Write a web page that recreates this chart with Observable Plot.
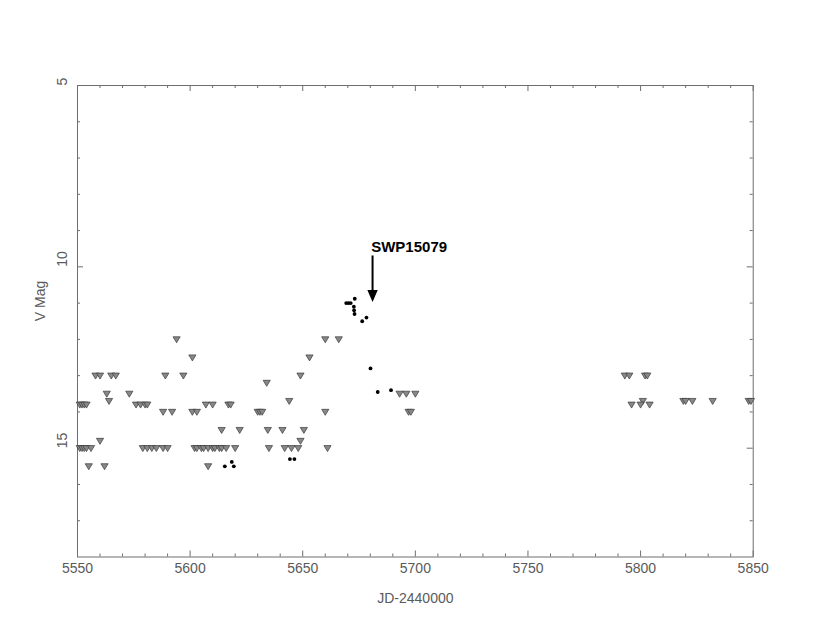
<!DOCTYPE html>
<html><head><meta charset="utf-8">
<script src="https://cdn.jsdelivr.net/npm/d3@7"></script>
<script src="https://cdn.jsdelivr.net/npm/@observablehq/plot@0.6"></script>
<style>body{margin:0;background:#fff}</style>
</head><body><div id="chart"></div>
<script>
// Upper limits (inverted triangles): JD-2440000 and V magnitude
const limitJD = [
  5594, 5660, 5666,
  5601, 5653,
  5558, 5560, 5565, 5567, 5589, 5597, 5649, 5793, 5795, 5802, 5803,
  5634,
  5563, 5573, 5693, 5696, 5700,
  5564, 5644, 5801, 5819, 5820, 5823, 5832, 5848, 5849,
  5551, 5552, 5553, 5554, 5576, 5578, 5580, 5581, 5607, 5610, 5617, 5618, 5796, 5800, 5804,
  5588, 5592, 5601, 5603, 5630, 5631, 5632, 5660, 5697, 5698,
  5614, 5622, 5634.5, 5641, 5650.5,
  5560, 5649,
  5551, 5552, 5553, 5554, 5556, 5579, 5581, 5583, 5585, 5588, 5590, 5602, 5603, 5605, 5606, 5608, 5610, 5611, 5613, 5614, 5616, 5620, 5635, 5642, 5645, 5648, 5661,
  5555, 5562, 5608
];
const limitMag = [
  12.0, 12.0, 12.0,
  12.5, 12.5,
  13.0, 13.0, 13.0, 13.0, 13.0, 13.0, 13.0, 13.0, 13.0, 13.0, 13.0,
  13.2,
  13.5, 13.5, 13.5, 13.5, 13.5,
  13.7, 13.7, 13.7, 13.7, 13.7, 13.7, 13.7, 13.7, 13.7,
  13.8, 13.8, 13.8, 13.8, 13.8, 13.8, 13.8, 13.8, 13.8, 13.8, 13.8, 13.8, 13.8, 13.8, 13.8,
  14.0, 14.0, 14.0, 14.0, 14.0, 14.0, 14.0, 14.0, 14.0, 14.0,
  14.5, 14.5, 14.5, 14.5, 14.5,
  14.8, 14.8,
  15.0, 15.0, 15.0, 15.0, 15.0, 15.0, 15.0, 15.0, 15.0, 15.0, 15.0, 15.0, 15.0, 15.0, 15.0, 15.0, 15.0, 15.0, 15.0, 15.0, 15.0, 15.0, 15.0, 15.0, 15.0, 15.0, 15.0,
  15.5, 15.5, 15.5
];
// Detections (filled dots)
const detJD  = [5615.4, 5618.5, 5619.4, 5644.3, 5646.3, 5669.3, 5670.3, 5671.3, 5673.1, 5672.7, 5672.8, 5673.0, 5676.4, 5678.3, 5680.1, 5683.3, 5689.2];
const detMag = [15.5, 15.38, 15.5, 15.3, 15.3, 11.0, 11.0, 11.0, 10.88, 11.1, 11.2, 11.3, 11.5, 11.4, 12.8, 13.45, 13.4];

// Annotation
const noteLabel = ["SWP15079"];
const noteJD = [5681];
const noteMagTop = [9.7];
const noteMagTip = [10.97];
const noteTextJD = [5680.4];
const noteTextMag = [9.45];

// Axes
const xMajorTicks = [5550, 5600, 5650, 5700, 5750, 5800, 5850];
const xMinorTicks = [5560, 5570, 5580, 5590, 5610, 5620, 5630, 5640, 5660, 5670, 5680, 5690, 5710, 5720, 5730, 5740, 5760, 5770, 5780, 5790, 5810, 5820, 5830, 5840];
const yMajorTicks = [5, 10, 15];
const yMinorTicks = [6, 7, 8, 9, 11, 12, 13, 14, 16, 17];
const xLabel = "JD-2440000";
const yLabel = "V Mag";

const limits = limitJD.map((x, i) => ({x, y: limitMag[i]}));
const dets = detJD.map((x, i) => ({x, y: detMag[i]}));

const W = 830, H = 642;
const mL = 77, mR = 77.3, mT = 85, mB = 85.5;
const iw = W - mL - mR, ih = H - mT - mB;
const axisColor = "#6e6e6e";
const textColor = "#5a5a5a";

const downTri = {draw(ctx) { ctx.moveTo(-3.6, -2.6); ctx.lineTo(3.6, -2.6); ctx.lineTo(0, 3.4); ctx.closePath(); }};
const arrowHead = {draw(ctx) { ctx.moveTo(0, 0); ctx.lineTo(-5.2, -12); ctx.lineTo(5.2, -12); ctx.closePath(); }};

const chart = Plot.plot({
  width: W, height: H,
  marginLeft: mL, marginRight: mR, marginTop: mT, marginBottom: mB,
  style: {fontFamily: "'Liberation Sans', Arial, sans-serif", fontSize: "14px", background: "#fff"},
  x: {domain: [5550, 5850], axis: null},
  y: {domain: [5, 18], reverse: true, axis: null},
  marks: [
    Plot.frame({stroke: axisColor}),
    // x ticks bottom & top
    Plot.tickX(xMajorTicks, {x: d => d, stroke: axisColor, insetTop: ih - 6}),
    Plot.tickX(xMinorTicks, {x: d => d, stroke: axisColor, insetTop: ih - 3}),
    Plot.tickX(xMajorTicks, {x: d => d, stroke: axisColor, insetBottom: ih - 6}),
    Plot.tickX(xMinorTicks, {x: d => d, stroke: axisColor, insetBottom: ih - 3}),
    // y ticks left & right
    Plot.tickY(yMajorTicks, {y: d => d, stroke: axisColor, insetRight: iw - 6}),
    Plot.tickY(yMinorTicks, {y: d => d, stroke: axisColor, insetRight: iw - 3}),
    Plot.tickY(yMajorTicks, {y: d => d, stroke: axisColor, insetLeft: iw - 6}),
    Plot.tickY(yMinorTicks, {y: d => d, stroke: axisColor, insetLeft: iw - 3}),
    // tick labels
    Plot.text(xMajorTicks, {x: d => d, text: d => String(d), frameAnchor: "bottom", dy: 16, fill: textColor, fontSize: 14}),
    Plot.text(yMajorTicks, {y: d => d, text: d => String(d), frameAnchor: "left", dx: -15, rotate: -90, fill: textColor, fontSize: 14}),
    Plot.text([xLabel], {text: d => d, frameAnchor: "bottom", dy: 46, fill: textColor, fontSize: 14}),
    Plot.text([yLabel], {text: d => d, frameAnchor: "left", dx: -36.5, rotate: -90, fill: textColor, fontSize: 14}),
    // data
    Plot.dot(limits, {x: "x", y: "y", symbol: downTri, fill: "#888", stroke: "#3a3a3a", strokeWidth: 0.7}),
    Plot.dot(dets, {x: "x", y: "y", r: 1.9, fill: "#000", stroke: "none"}),
    // annotation arrow
    Plot.ruleX(noteJD.map((x, i) => ({x, y1: noteMagTop[i], y2: noteMagTip[i]})), {x: "x", y1: "y1", y2: "y2", stroke: "#000", strokeWidth: 2, insetBottom: 8}),
    Plot.dot(noteJD.map((x, i) => ({x, y: noteMagTip[i]})), {x: "x", y: "y", symbol: arrowHead, fill: "#000", stroke: "none"}),
    Plot.text(noteLabel.map((t, i) => ({t, x: noteTextJD[i], y: noteTextMag[i]})), {x: "x", y: "y", text: "t", textAnchor: "start", fill: "#000", fontSize: 15, fontWeight: "bold"})
  ]
});
document.getElementById("chart").appendChild(chart);
</script>
</body></html>
